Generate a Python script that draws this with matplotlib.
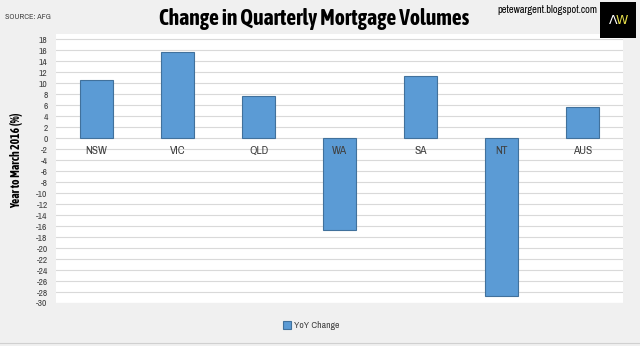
import matplotlib
matplotlib.use("Agg")
import matplotlib.pyplot as plt
from matplotlib.patches import Rectangle
from matplotlib.lines import Line2D
from matplotlib import font_manager

categories = ["NSW", "VIC", "QLD", "WA", "SA", "NT", "AUS"]
yoy_change = [10.5, 15.7, 7.6, -16.8, 11.3, -28.7, 5.7]
yticks = list(range(-30, 19, 2))

entries = font_manager.fontManager.ttflist
cond = sorted({f.name for f in entries if "Narrow" in f.name or "Condensed" in f.name})
def has_bold(n):
    return any(f.name == n and (f.weight in ("bold", 700) or
               (isinstance(f.weight, int) and f.weight >= 600)) for f in entries)
pref = [n for n in cond if "Liberation" in n and has_bold(n)]
pref += [n for n in cond if has_bold(n) and n not in pref]
bold_family = (pref[:1] if pref else []) + ["Liberation Sans", "DejaVu Sans"]
narrow = (cond[:1] if cond else []) + ["Liberation Sans", "DejaVu Sans"]
title_size = 15.6 if pref else 12.0

fig = plt.figure(figsize=(6.4, 3.46), dpi=100)
fig.patch.set_facecolor("#f0f0f0")

ax = fig.add_axes([56/640, (346-303)/346, 567/640, (303-33.8)/346])
ax.set_facecolor("white")
x = list(range(len(categories)))
ax.bar(x, yoy_change, width=0.4, color="#5b9bd5", edgecolor="#41719c",
       linewidth=0.8, zorder=3, label="YoY Change")
ax.set_xlim(-0.5, len(categories) - 0.5)
ax.set_ylim(-30, 19)
ax.set_yticks(yticks)
ax.set_yticklabels([str(t) for t in yticks], fontsize=6.8,
                   color="#404040", family=narrow)
ax.tick_params(axis="y", length=0, pad=6)
ax.set_xticks([])
ax.grid(axis="y", color="#d9d9d9", linewidth=0.8, zorder=0)
for s in ax.spines.values():
    s.set_visible(False)
for xi, c in zip(x, categories):
    ax.text(xi, -2.4, c, ha="center", va="center", fontsize=8.3,
            color="#404040", family=narrow, zorder=4)

ax.set_ylabel("Year to March 2016 (%)", fontsize=8.3, fontweight="bold",
              family=bold_family)
ax.yaxis.set_label_coords(-0.058, 0.53)

leg = ax.legend(loc="center", bbox_to_anchor=(0.45, -0.085), frameon=False,
                handlelength=0.8, handleheight=0.8, handletextpad=0.3,
                prop={"family": narrow, "size": 7})
for t in leg.get_texts():
    t.set_color("#404040")

fig.text(314/640, 0.945, "Change in Quarterly Mortgage Volumes", ha="center",
         va="center", fontsize=title_size, fontweight="bold", family=bold_family)
fig.text(5/640, 0.951, "SOURCE: AFG", ha="left", va="center",
         fontsize=5.8, color="#404040", family=narrow)
fig.text(597/640, 0.972, "petewargent.blogspot.com", ha="right", va="center",
         fontsize=7.5, family=narrow)

logo = Rectangle((600/640, (346-38)/346), 36/640, 36/346,
                 transform=fig.transFigure, facecolor="black", edgecolor="none")
fig.patches.append(logo)
fig.text(613/640, (346-20)/346, "Λ", ha="center", va="center", fontsize=9,
         color="white", family="DejaVu Sans")
fig.text(622/640, (346-20)/346, "W", ha="center", va="center", fontsize=9,
         color="#e8e04a", family="DejaVu Sans")

fig.lines.append(Line2D([0, 1], [3/346, 3/346], transform=fig.transFigure,
                        color="#d0d0d0", linewidth=0.8))

fig.savefig("out.png", dpi=100, facecolor=fig.get_facecolor())
